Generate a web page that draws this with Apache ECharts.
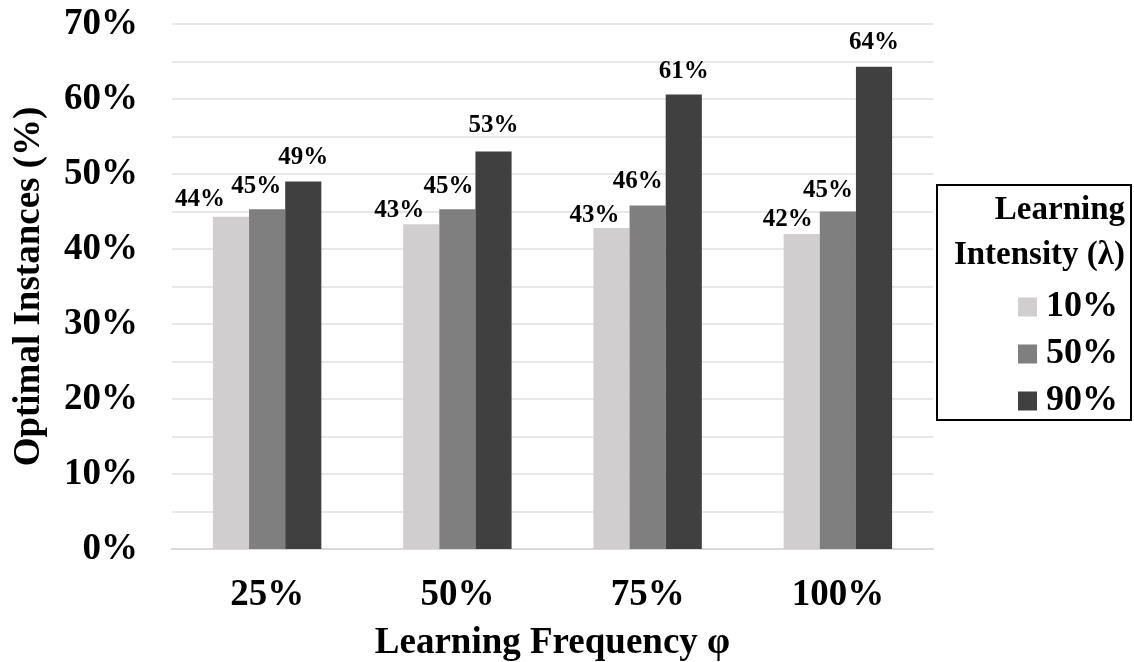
<!DOCTYPE html>
<html>
<head>
<meta charset="utf-8">
<script src="https://cdn.jsdelivr.net/npm/echarts@6/dist/echarts.min.js"></script>
<style>
  html, body { margin: 0; padding: 0; background: #ffffff; }
  #chart { width: 1134px; height: 662px; }
</style>
</head>
<body>
<div id="chart"></div>
<script>
// Learning frequency (x categories) and learning intensity (series)
const categories = ['25%', '50%', '75%', '100%'];
const seriesNames = ['10%', '50%', '90%'];
const intensity10 = [44.3, 43.3, 42.8, 42.0];
const intensity50 = [45.3, 45.3, 45.8, 45.0];
const intensity90 = [49.0, 53.0, 60.6, 64.3];

const seriesValues = [intensity10, intensity50, intensity90];
const colors = ['#d0cecf', '#7f7f7f', '#404040'];
// label nudges so neighbouring value labels don't collide
const labelShift = [
  [[-31, 0], [-22, 4], [-17, 5], [-14, 3]],
  [[-11, -5], [-9, -5], [-10, -6], [-10, -3]],
  [[0, -6], [0, -8], [0, -5], [0, -7]]
];

const FONT = '"Liberation Serif", "Times New Roman", serif';

const chart = echarts.init(document.getElementById('chart'), null, { renderer: 'canvas' });

const series = seriesValues.map((vals, si) => ({
  name: seriesNames[si],
  type: 'bar',
  barGap: '0%',
  barCategoryGap: '43%',
  itemStyle: { color: colors[si] },
  label: {
    show: true,
    position: 'top',
    distance: 5,
    fontFamily: FONT,
    fontWeight: 'bold',
    fontSize: 25,
    color: '#000',
    formatter: p => Math.round(p.value) + '%'
  },
  data: vals.map((v, i) => ({ value: v, label: { offset: labelShift[si][i] } }))
}));

chart.setOption({
  animation: false,
  backgroundColor: '#ffffff',
  grid: { left: 172, right: 201, top: 24, bottom: 113, containLabel: false, outerBoundsMode: 'none' },
  xAxis: {
    type: 'category',
    data: categories,
    name: 'Learning Frequency φ',
    nameLocation: 'middle',
    nameGap: 76,
    nameTextStyle: { fontFamily: FONT, fontWeight: 'bold', fontSize: 37, color: '#000' },
    axisLine: { show: true, lineStyle: { color: '#d9d9d9', width: 2 } },
    axisTick: { show: false },
    axisLabel: { margin: 28, fontFamily: FONT, fontWeight: 'bold', fontSize: 37, color: '#000' }
  },
  yAxis: {
    type: 'value',
    min: 0,
    max: 70,
    interval: 5,
    name: 'Optimal Instances (%)',
    nameLocation: 'middle',
    nameGap: 124,
    nameTextStyle: { fontFamily: FONT, fontWeight: 'bold', fontSize: 37, color: '#000' },
    axisLine: { show: false },
    axisTick: { show: false },
    splitLine: { show: true, lineStyle: { color: '#e8e8e8', width: 2 } },
    axisLabel: {
      margin: 34,
      fontFamily: FONT, fontWeight: 'bold', fontSize: 37, color: '#000',
      formatter: v => (v % 10 === 0 ? v + '%' : '')
    }
  },
  legend: {
    orient: 'vertical',
    right: 11,
    top: 284,
    itemWidth: 19,
    itemHeight: 19,
    itemGap: 11,
    icon: 'rect',
    data: seriesNames,
    textStyle: { fontFamily: FONT, fontWeight: 'bold', fontSize: 36, color: '#000', padding: [0, 0, 0, 4] }
  },
  graphic: [
    {
      type: 'rect',
      shape: { x: 937, y: 185, width: 194, height: 235 },
      style: { fill: 'none', stroke: '#000', lineWidth: 2 }
    },
    {
      type: 'text',
      x: 1125, y: 210,
      style: { text: 'Learning', textAlign: 'right', textVerticalAlign: 'middle',
               font: 'bold 33px ' + FONT, fill: '#000' }
    },
    {
      type: 'text',
      x: 1125, y: 255,
      style: { text: 'Intensity (λ)', textAlign: 'right', textVerticalAlign: 'middle',
               font: 'bold 33px ' + FONT, fill: '#000' }
    }
  ],
  series: series
});
</script>
</body>
</html>
